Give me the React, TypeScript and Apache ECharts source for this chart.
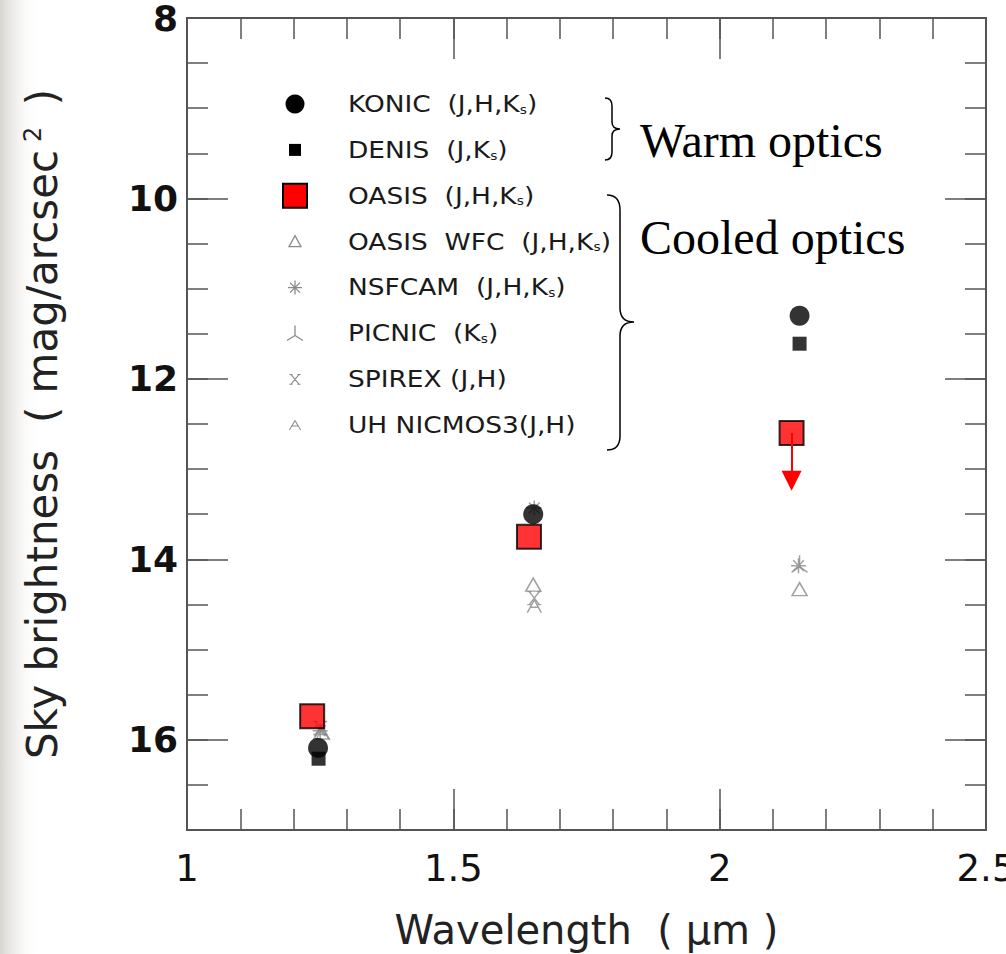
import React, { useEffect, useRef } from "react";
import * as echarts from "echarts";

// ---------- data ----------
const xLabelValues = [1, 1.5, 2, 2.5];
const xMajorTicks = [1, 1.5, 2, 2.5];
const yLabelValues = [8, 10, 12, 14, 16];
const yMajorTicks = [8, 10, 12, 14, 16];

const seriesNames = ["KONIC", "DENIS", "OASIS", "OASIS WFC", "NSFCAM", "PICNIC", "SPIREX", "UH NICMOS3"];
const legendMain = ["KONIC  (J,H,K", "DENIS  (J,K", "OASIS  (J,H,K", "OASIS  WFC  (J,H,K", "NSFCAM  (J,H,K", "PICNIC  (K", "SPIREX (J,H)", "UH NICMOS3(J,H)"];
const legendSub = ["s", "s", "s", "s", "s", "s", "", ""];
const legendTail = [")", ")", ")", ")", ")", ")", "", ""];

const konic = [[1.246, 16.09], [1.65, 13.5], [2.15, 11.3]];
const denis = [[1.247, 16.21], [2.15, 11.61]];
const oasis = [[1.235, 15.74], [1.642, 13.75], [2.135, 12.6]];
const oasisWfc = [[1.252, 15.92], [1.65, 14.28], [2.15, 14.33]];
const nsfcam = [[1.25, 15.9], [1.652, 13.43], [2.148, 14.07]];
const picnic = [[2.15, 14.05]];
const spirex = [[1.25, 15.87], [1.652, 14.43]];
const uhNicmos3 = [[1.255, 15.93], [1.652, 14.52]];
const oasisKLimit = [[2.135, 12.6], [2.135, 13.13]];

const annotations = ["Warm optics", "Cooled optics"];

// ---------- symbol shapes ----------
const SYM_NSFCAM = "M0,-7L0,7M-7,0L7,0M-5,-5L5,5M-5,5L5,-5";
const SYM_PICNIC = "M0,-10L0,0L-8,5M0,0L8,5";
const SYM_SPIREX = "M-5,-6L5,6M5,-6L-5,6M-7,-6L-3,-6M3,-6L7,-6M-7,6L-3,6M3,6L7,6";
const SYM_UH = "M0,-6L-7,6M0,-6L7,6M-4,1L4,1";
const BRACE_SMALL = "M605,98 Q612,98 612,106 L612,122 Q612,129 620,129 Q612,129 612,136 L612,152 Q612,160 605,160";
const BRACE_LARGE = "M607,195 Q620,195 620,210 L620,308 Q620,322 634,322 Q620,322 620,336 L620,436 Q620,450 607,450";

echarts.graphic.registerShape("symNsfcam", echarts.graphic.extendPath(SYM_NSFCAM, {}));
echarts.graphic.registerShape("symPicnic", echarts.graphic.extendPath(SYM_PICNIC, {}));
echarts.graphic.registerShape("symSpirex", echarts.graphic.extendPath(SYM_SPIREX, {}));
echarts.graphic.registerShape("symUh", echarts.graphic.extendPath(SYM_UH, {}));
echarts.graphic.registerShape("braceSmall", echarts.graphic.extendPath(BRACE_SMALL, {}));
echarts.graphic.registerShape("braceLarge", echarts.graphic.extendPath(BRACE_LARGE, {}));

const GRAY = "#8a8a8a";
const AXIS = "#555";
const FONT = "DejaVu Sans";

function buildOption() {
  const grayStyle = { color: "transparent", borderColor: GRAY, borderWidth: 1.5 };

  const xBase = (position: string, labels: boolean, major: boolean) => ({
    type: "value",
    min: 1,
    max: 2.5,
    interval: major ? 0.5 : 0.1,
    position,
    axisLine: { show: !major, onZero: false, lineStyle: { color: AXIS, width: 2 } },
    axisTick: major
      ? { show: true, inside: true, length: 41, customValues: xMajorTicks, lineStyle: { color: AXIS, width: 1.5 } }
      : { show: true, inside: true, length: 21, lineStyle: { color: AXIS, width: 1.5 } },
    axisLabel: labels
      ? { show: true, customValues: xLabelValues, margin: 20, fontFamily: FONT, fontSize: 37, color: "#111", formatter: (v: number) => String(v) }
      : { show: false },
    splitLine: { show: false },
  });

  const yBase = (position: string, labels: boolean, major: boolean) => ({
    type: "value",
    min: 8,
    max: 17,
    interval: major ? 2 : 0.5,
    inverse: true,
    position,
    axisLine: { show: !major, onZero: false, lineStyle: { color: AXIS, width: 2 } },
    axisTick: major
      ? { show: true, inside: true, length: 41, customValues: yMajorTicks, lineStyle: { color: AXIS, width: 1.5 } }
      : { show: true, inside: true, length: 21, lineStyle: { color: AXIS, width: 1.5 } },
    axisLabel: labels
      ? { show: true, customValues: yLabelValues, margin: 9, fontFamily: FONT, fontWeight: "bold", fontSize: 36, color: "#111", formatter: (v: number) => String(v) }
      : { show: false },
    splitLine: { show: false },
  });

  const xAxis: any[] = [
    {
      ...xBase("bottom", true, false),
      name: "Wavelength  ( μm )",
      nameLocation: "middle",
      nameGap: 80,
      nameTextStyle: { fontFamily: FONT, fontSize: 40, color: "#222" },
    },
    xBase("bottom", false, true),
    xBase("top", false, false),
    xBase("top", false, true),
  ];
  const yAxis: any[] = [
    {
      ...yBase("left", true, false),
      name: "Sky brightness  ( mag/arcsec{sup|2} )",
      nameLocation: "middle",
      nameGap: 124,
      nameRotate: 90,
      nameTextStyle: {
        fontFamily: FONT,
        fontSize: 42,
        color: "#222",
        rich: { sup: { fontFamily: FONT, fontSize: 24, color: "#222", verticalAlign: "top", padding: [0, 8, 0, 8] } },
      },
    },
    yBase("left", false, true),
    yBase("right", false, false),
    yBase("right", false, true),
  ];

  const series: any[] = [
    { name: seriesNames[3], type: "scatter", z: 2, symbol: "triangle", symbolSize: [15, 13], itemStyle: grayStyle, data: oasisWfc },
    { name: seriesNames[4], type: "scatter", z: 2, symbol: "path://" + SYM_NSFCAM, symbolSize: [15, 15], itemStyle: grayStyle, data: nsfcam },
    { name: seriesNames[5], type: "scatter", z: 2, symbol: "path://" + SYM_PICNIC, symbolSize: [16, 17], itemStyle: grayStyle, data: picnic },
    { name: seriesNames[6], type: "scatter", z: 2, symbol: "path://" + SYM_SPIREX, symbolSize: [14, 13], itemStyle: grayStyle, data: spirex },
    { name: seriesNames[7], type: "scatter", z: 2, symbol: "path://" + SYM_UH, symbolSize: [14, 13], itemStyle: grayStyle, data: uhNicmos3 },
    { name: seriesNames[0], type: "scatter", z: 3, symbol: "circle", symbolSize: 20, itemStyle: { color: "#000" }, data: konic },
    { name: seriesNames[1], type: "scatter", z: 3, symbol: "rect", symbolSize: 14, itemStyle: { color: "#000" }, data: denis },
    {
      name: seriesNames[2],
      type: "scatter",
      z: 4,
      symbol: "rect",
      symbolSize: 24,
      itemStyle: { color: "#ff0000", borderColor: "#000", borderWidth: 2 },
      data: oasis,
      markLine: {
        silent: true,
        symbol: ["none", "triangle"],
        symbolSize: [20, 20],
        label: { show: false },
        emphasis: { disabled: true },
        lineStyle: { color: "#ff0000", width: 2, type: "solid" },
        data: [[{ coord: oasisKLimit[0] }, { coord: oasisKLimit[1] }]],
      },
    },
  ];

  // ---------- custom legend ----------
  const legendX = 295;
  const textX = 348;
  const rowTop = 104;
  const rowGap = 45.9;
  const graphics: any[] = [
    {
      type: "rect",
      shape: { x: 0, y: 0, width: 40, height: 954 },
      style: {
        fill: new echarts.graphic.LinearGradient(0, 0, 1, 0, [
          { offset: 0, color: "rgba(200,195,188,0.7)" },
          { offset: 1, color: "rgba(255,255,255,0)" },
        ]),
      },
      silent: true,
      z: -10,
    },
  ];
  seriesNames.forEach((_, i) => {
    const y = rowTop + i * rowGap;
    let sym: any;
    const grayLine = { fill: "none", stroke: GRAY, lineWidth: 1.3 };
    if (i === 0) sym = { type: "circle", shape: { cx: legendX, cy: y, r: 9.5 }, style: { fill: "#000" } };
    else if (i === 1) sym = { type: "rect", shape: { x: legendX - 6, y: y - 6, width: 12, height: 12 }, style: { fill: "#000" } };
    else if (i === 2) sym = { type: "rect", shape: { x: legendX - 12, y: y - 12, width: 24, height: 24 }, style: { fill: "#ff0000", stroke: "#000", lineWidth: 2 } };
    else if (i === 3) sym = { type: "polygon", shape: { points: [[legendX, y - 6], [legendX - 6, y + 5], [legendX + 6, y + 5]] }, style: grayLine };
    else if (i === 4) sym = { type: "symNsfcam", x: legendX, y, style: grayLine };
    else if (i === 5) sym = { type: "symPicnic", x: legendX, y: y + 2, style: grayLine };
    else if (i === 6) sym = { type: "symSpirex", x: legendX, y, scaleX: 0.8, scaleY: 0.8, style: grayLine };
    else sym = { type: "symUh", x: legendX, y, scaleX: 0.8, scaleY: 0.8, style: grayLine };
    graphics.push(sym);
    const txt = legendSub[i]
      ? `${legendMain[i]}{s|${legendSub[i]}}${legendTail[i]}`
      : `${legendMain[i]}${legendTail[i]}`;
    graphics.push({
      type: "text",
      x: textX,
      y,
      scaleX: 1.15,
      style: {
        text: txt,
        fontFamily: FONT,
        fontSize: 23,
        fill: "#1a1a1a",
        verticalAlign: "middle",
        rich: { s: { fontFamily: FONT, fontSize: 12, fill: "#1a1a1a", verticalAlign: "bottom" } },
      },
    });
  });

  graphics.push(
    { type: "braceSmall", style: { fill: "none", stroke: "#000", lineWidth: 1.5 } },
    { type: "braceLarge", style: { fill: "none", stroke: "#000", lineWidth: 1.5 } },
    { type: "text", x: 640, y: 140, style: { text: annotations[0], fontFamily: "Liberation Serif", fontSize: 48, fill: "#000", verticalAlign: "middle" } },
    { type: "text", x: 640, y: 237, style: { text: annotations[1], fontFamily: "Liberation Serif", fontSize: 48, fill: "#000", verticalAlign: "middle" } }
  );

  return {
    animation: false,
    backgroundColor: "#fff",
    textStyle: { fontFamily: FONT },
    grid: { left: 187, top: 18, right: 20, bottom: 124, containLabel: false, outerBoundsMode: "none" },
    xAxis,
    yAxis,
    series,
    graphic: graphics,
  };
}

export default function App() {
  const ref = useRef<HTMLDivElement>(null);
  useEffect(() => {
    if (!ref.current) return;
    const chart = echarts.init(ref.current, undefined, { renderer: "svg" });
    chart.setOption(buildOption() as any);
    return () => chart.dispose();
  }, []);
  return <div ref={ref} style={{ position: "absolute", left: 0, top: 0, width: 1006, height: 954, background: "#fff" }} />;
}
